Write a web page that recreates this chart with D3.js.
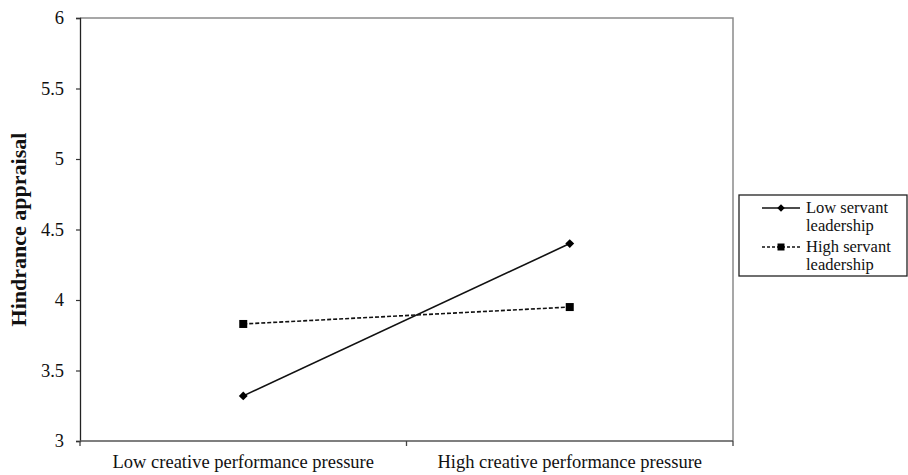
<!DOCTYPE html>
<html><head><meta charset="utf-8">
<script src="https://cdn.jsdelivr.net/npm/d3@7"></script>
<style>body{margin:0;background:#fff}svg{display:block}svg text{font-family:"Liberation Serif","Times New Roman",Times,serif !important;fill:#111}</style>
</head><body><div id="c"></div>
<script>
const categories = ["Low creative performance pressure", "High creative performance pressure"];
const seriesNames = ["Low servant leadership", "High servant leadership"];
const lowServant = [3.32, 4.40];
const highServant = [3.83, 3.95];
const yTicks = [3, 3.5, 4, 4.5, 5, 5.5, 6];
const yTitle = "Hindrance appraisal";

const W = 908, H = 475;
const m = {l: 80, r: 733, t: 18, b: 441};
const FF = '"Liberation Serif","Times New Roman",Times,serif';
const svg = d3.select("#c").append("svg").attr("width", W).attr("height", H);

const x = d3.scaleBand().domain(categories).range([m.l, m.r]);
const y = d3.scaleLinear().domain([3, 6]).range([m.b, m.t]);

// plot frame (top/right in gray)
svg.append("path").attr("d", `M${m.l},${m.t}H${m.r}V${m.b}`).attr("fill","none").attr("stroke","#8a8a8a").attr("stroke-width",1.5);

// y axis
const ya = svg.append("g").attr("transform", `translate(${m.l},0)`)
  .call(d3.axisLeft(y).tickValues(yTicks).tickSize(4).tickPadding(12).tickFormat(d => String(d)));
ya.attr("font-family", null);
ya.select(".domain").attr("stroke","#222").attr("stroke-width",1.3);
ya.selectAll(".tick line").attr("stroke","#333").attr("stroke-width",1.2);
ya.selectAll("text").style("font-family",FF).attr("font-size",18.5).attr("fill","#111");

// x axis: ticks at band boundaries
const xa = svg.append("g").attr("transform", `translate(0,${m.b})`);
xa.append("line").attr("x1", m.l).attr("x2", m.r).attr("stroke","#555").attr("stroke-width",1.5);
const bounds = [x.range()[0], x(categories[1]), x.range()[1]];
xa.selectAll("line.tk").data(bounds).join("line").attr("class","tk")
  .attr("x1", d=>d).attr("x2", d=>d).attr("y1",0).attr("y2",5).attr("stroke","#444").attr("stroke-width",1.3);
xa.selectAll("text").data(categories).join("text")
  .attr("x", d => x(d) + x.bandwidth()/2).attr("y", 27)
  .attr("text-anchor","middle").attr("font-size",18.5).style("font-family",FF).attr("fill","#111").text(d=>d);

// y title
svg.append("text").attr("transform", `translate(26,${(m.t+m.b)/2}) rotate(-90)`)
  .attr("text-anchor","middle").attr("font-size",22).attr("font-weight","bold").style("font-family",FF).text(yTitle);

const cx = d => x(d) + x.bandwidth()/2;
const line = d3.line().x((d,i)=>cx(categories[i])).y(d=>y(d));

// Low servant: solid, diamonds
svg.append("path").datum(lowServant).attr("d", line).attr("fill","none").attr("stroke","#111").attr("stroke-width",1.6);
svg.selectAll("path.dia").data(lowServant).join("path").attr("class","dia")
  .attr("d", d3.symbol(d3.symbolDiamond2, 50))
  .attr("transform", (d,i)=>`translate(${cx(categories[i])},${y(d)})`).attr("fill","#000");

// High servant: dashed, squares
svg.append("path").datum(highServant).attr("d", line).attr("fill","none").attr("stroke","#111").attr("stroke-width",1.6).attr("stroke-dasharray","4,2");
svg.selectAll("rect.sq").data(highServant).join("rect").attr("class","sq")
  .attr("x",(d,i)=>cx(categories[i])-4).attr("y",d=>y(d)-4).attr("width",8).attr("height",8).attr("fill","#000");

// legend
const lg = svg.append("g");
lg.append("rect").attr("x",739).attr("y",195).attr("width",168).attr("height",81).attr("fill","#fff").attr("stroke","#222").attr("stroke-width",1.3);
const lx1 = 762, lx2 = 800, tx = 806;
const rows = [{name:["Low servant","leadership"], y0:208, dash:null, sym:"dia"},
              {name:["High servant","leadership"], y0:247, dash:"3,2", sym:"sq"}];
rows.forEach(r => {
  lg.append("line").attr("x1",lx1).attr("x2",lx2).attr("y1",r.y0).attr("y2",r.y0).attr("stroke","#111").attr("stroke-width",1.3).attr("stroke-dasharray", r.dash);
  if (r.sym==="dia") lg.append("path").attr("d", d3.symbol(d3.symbolDiamond2, 36)).attr("transform",`translate(${(lx1+lx2)/2},${r.y0})`).attr("fill","#000");
  else lg.append("rect").attr("x",(lx1+lx2)/2-3.5).attr("y",r.y0-3.5).attr("width",7).attr("height",7).attr("fill","#000");
  lg.append("text").attr("x",tx).attr("y",r.y0+5).attr("font-size",16.5).style("font-family",FF).text(r.name[0]);
  lg.append("text").attr("x",tx).attr("y",r.y0+23).attr("font-size",16.5).style("font-family",FF).text(r.name[1]);
});
</script></body></html>
